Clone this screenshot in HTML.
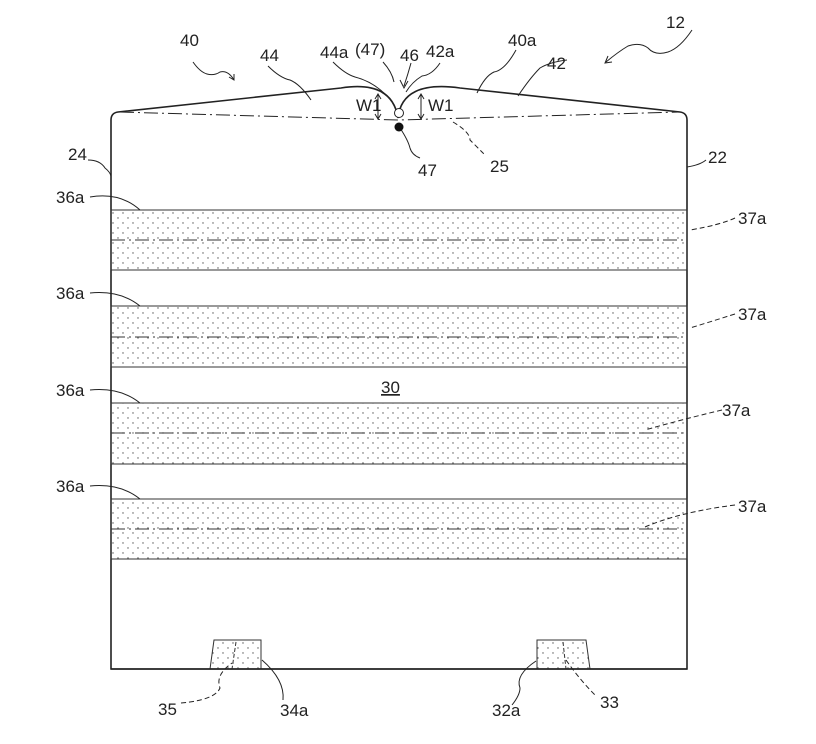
<!DOCTYPE html>
<html><head><style>body{margin:0;background:#fff}svg{display:block}text{font-family:"Liberation Sans",sans-serif;font-size:17px;fill:#222}</style></head><body>
<svg width="816" height="744" viewBox="0 0 816 744" xmlns="http://www.w3.org/2000/svg">
<defs><pattern id="d" width="10" height="10" patternUnits="userSpaceOnUse"><circle cx="3" cy="3" r="0.7" fill="#555"/><circle cx="8" cy="8" r="0.7" fill="#555"/></pattern></defs>
<g stroke="#222" fill="none" stroke-width="1.6">
<path d="M111,669 V120 Q111,113 118,112 L341,88 Q392,80 398,118 Q402,80 460,88 L680,112 Q687,113 687,120 V669 Z" fill="#fff"/>
<path d="M120,112 L398,120 L680,112" stroke-width="1" stroke-dasharray="14,4,2,4"/>
</g>
<g stroke="#333" stroke-width="1">
<rect x="111" y="210" width="576" height="60" fill="url(#d)"/>
<rect x="111" y="306" width="576" height="61" fill="url(#d)"/>
<rect x="111" y="403" width="576" height="61" fill="url(#d)"/>
<rect x="111" y="499" width="576" height="60" fill="url(#d)"/>
<g stroke-dasharray="14,4,2,4">
<line x1="111" y1="240" x2="687" y2="240"/><line x1="111" y1="337" x2="687" y2="337"/>
<line x1="111" y1="433" x2="687" y2="433"/><line x1="111" y1="529" x2="687" y2="529"/></g>
<path d="M214,640 L210,669 H261 V640 Z" fill="url(#d)"/>
<path d="M537,669 V640 H586 L590,669 Z" fill="url(#d)"/>
<line x1="236" y1="642" x2="232" y2="669" stroke-dasharray="4,2"/>
<line x1="563" y1="642" x2="566" y2="669" stroke-dasharray="4,2"/>
</g>
<line x1="111" y1="669" x2="687" y2="669" stroke="#222" stroke-width="1.6"/>
<g stroke="#222" stroke-width="1" fill="none">
<circle cx="399" cy="113" r="4.5" fill="#fff"/>
<path d="M378,95 V118 M375,99 L378,94 L381,99 M375,114 L378,119 L381,114"/>
<path d="M421,95 V118 M418,99 L421,94 L424,99 M418,114 L421,119 L424,114"/>
<path d="M193,62 Q200,72 207,74 Q214,76 220,72 Q228,70 234,80 M229,77 L234,80 L234,74"/>
<path d="M692,30 Q680,48 668,52 Q655,56 648,48 Q640,42 628,46 Q618,52 606,62 M608,56 L605,63 L612,62"/>
<path d="M268,66 Q280,78 290,80 Q300,84 311,100"/>
<path d="M333,62 Q345,74 355,77 Q375,82 391,100"/>
<path d="M383,62 Q392,72 394,82"/>
<path d="M411,63 Q408,74 404,86 M400,80 L404,88 L408,81"/>
<path d="M440,63 Q432,75 422,76 Q412,82 406,92"/>
<path d="M516,50 Q505,70 494,72 Q485,76 477,93"/>
<path d="M567,60 Q550,62 540,68 Q530,78 518,96"/>
<path d="M400,128 Q408,140 410,148 Q412,155 420,158"/>
<path d="M453,122 Q470,132 470,140 Q478,148 485,155" stroke-dasharray="5,3"/>
<path d="M88,160 Q100,160 105,168 Q110,172 111,176"/>
<path d="M90,197 Q120,192 140,210"/>
<path d="M90,293 Q120,290 140,306"/>
<path d="M90,390 Q120,387 140,403"/>
<path d="M90,486 Q120,483 140,499"/>
<path d="M706,160 Q700,165 687,167"/>
<path d="M735,218 Q720,225 690,230" stroke-dasharray="5,3"/>
<path d="M735,314 Q700,325 690,328" stroke-dasharray="5,3"/>
<path d="M722,410 Q680,420 645,430" stroke-dasharray="5,3"/>
<path d="M735,505 Q680,512 645,527" stroke-dasharray="5,3"/>
<path d="M181,703 Q215,700 220,688 Q215,675 232,663" stroke-dasharray="5,3"/>
<path d="M262,660 Q285,680 283,700" />
<path d="M536,661 Q515,675 520,688 Q520,695 512,705"/>
<path d="M566,660 Q580,680 595,695" stroke-dasharray="5,3"/>
</g>
<circle cx="399" cy="127" r="4.5" fill="#111"/>
<text x="180" y="46">40</text><text x="260" y="61">44</text>
<text x="320" y="58">44a</text><text x="355" y="55">(47)</text>
<text x="400" y="61">46</text><text x="426" y="57">42a</text>
<text x="508" y="46">40a</text><text x="547" y="69">42</text>
<text x="666" y="28">12</text>
<text x="356" y="111">W1</text><text x="428" y="111">W1</text>
<text x="418" y="176">47</text><text x="490" y="172">25</text>
<text x="68" y="160">24</text><text x="708" y="163">22</text>
<text x="56" y="203">36a</text><text x="56" y="299">36a</text><text x="56" y="396">36a</text><text x="56" y="492">36a</text>
<text x="738" y="224">37a</text><text x="738" y="320">37a</text><text x="722" y="416">37a</text><text x="738" y="512">37a</text>
<text x="381" y="393" text-decoration="underline">30</text>
<text x="158" y="715">35</text><text x="280" y="716">34a</text>
<text x="492" y="716">32a</text><text x="600" y="708">33</text>
</svg>
</body></html>
